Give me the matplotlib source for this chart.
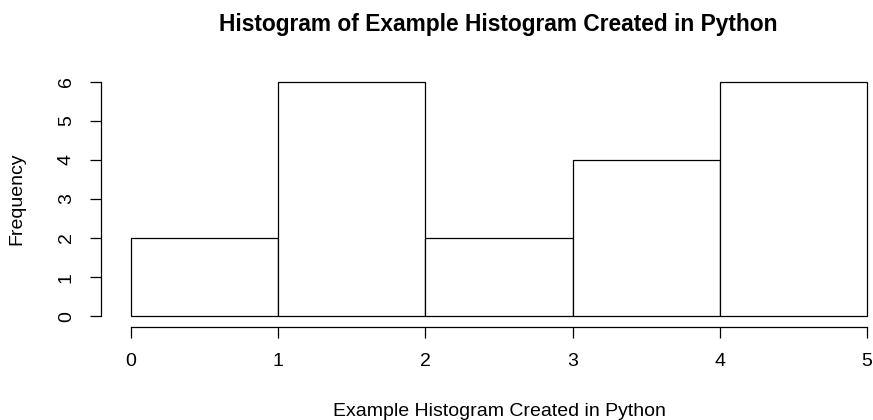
import matplotlib
matplotlib.use("Agg")
import matplotlib.pyplot as plt
import numpy as np

bin_edges = [0, 1, 2, 3, 4, 5]
counts = [2, 6, 2, 4, 6]
x_ticks = [0, 1, 2, 3, 4, 5]
y_ticks = [0, 1, 2, 3, 4, 5, 6]
title = "Histogram of Example Histogram Created in Python"
xlabel = "Example Histogram Created in Python"
ylabel = "Frequency"

plt.rcParams['font.family'] = ['Liberation Sans', 'DejaVu Sans']

W, H = 873, 420
fig = plt.figure(figsize=(W / 100, H / 100), dpi=100)

# axes pixel geometry
px_left, px_right = 101.2, 873
px_top, px_bottom = 72.3, 325.6
ax = fig.add_axes([px_left / W, 1 - px_bottom / H, (px_right - px_left) / W, (px_bottom - px_top) / H])
unit_x = 147.3
ax.set_xlim(-0.2, -0.2 + (px_right - px_left) / unit_x)
ax.set_ylim(-0.24, 6.24)

centers = [(a + b) / 2 for a, b in zip(bin_edges[:-1], bin_edges[1:])]
ax.hist(centers, bins=bin_edges, weights=counts, facecolor='white', edgecolor='black', linewidth=0.9)

for s in ['top', 'right']:
    ax.spines[s].set_visible(False)
ax.spines['left'].set_bounds(0, 6)
ax.spines['bottom'].set_bounds(0, 5)
ax.spines['left'].set_linewidth(0.9)
ax.spines['bottom'].set_linewidth(0.9)
ax.spines['bottom'].set_position(('outward', 1))

ax.set_xticks(x_ticks)
ax.set_xticklabels([str(v) for v in x_ticks])
ax.set_yticks(y_ticks)
ax.set_yticklabels([str(v) for v in y_ticks], rotation=90, va='center')
ax.tick_params(axis='both', length=8, width=0.9, labelsize=14)
ax.tick_params(axis='x', pad=11)
ax.tick_params(axis='y', pad=11)

fig.text(498.5 / W, 1 - 24 / H, title, ha='center', va='center', fontsize=16.4, fontweight='bold')
fig.text(499 / W, 1 - 411 / H, xlabel, ha='center', va='center', fontsize=14)
fig.text(17 / W, 1 - 199 / H, ylabel, ha='center', va='center', rotation=90, fontsize=14)

fig.savefig("out.png", dpi=100)
